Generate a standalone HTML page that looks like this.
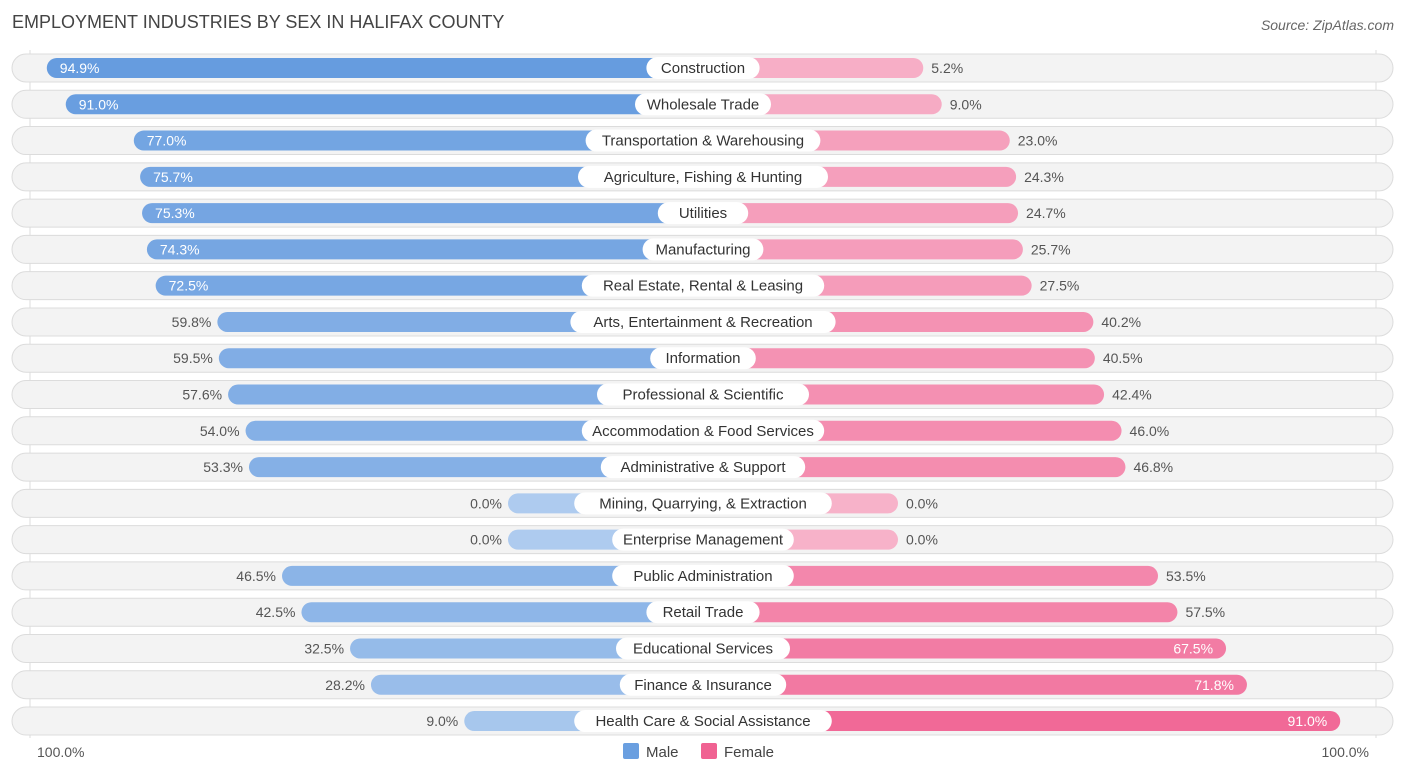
<!DOCTYPE html>
<html><head><meta charset="utf-8"><style>
body{margin:0;background:#fff;font-family:"Liberation Sans",sans-serif;}
svg text{font-family:"Liberation Sans",sans-serif;}
</style></head><body>
<svg id="chart" width="1406" height="776" viewBox="0 0 1406 776">
<text x="12" y="28" font-size="18" fill="#444">EMPLOYMENT INDUSTRIES BY SEX IN HALIFAX COUNTY</text>
<text x="1394" y="30" font-size="14" fill="#666" font-style="italic" text-anchor="end">Source: ZipAtlas.com</text>
<line x1="30" y1="50" x2="30" y2="738" stroke="#ddd"/>
<line x1="1376" y1="50" x2="1376" y2="738" stroke="#ddd"/>
<g id="rows"></g>
<text x="37" y="757" font-size="14" fill="#555">100.0%</text>
<text x="1369" y="757" font-size="14" fill="#555" text-anchor="end">100.0%</text>
<rect x="623" y="743" width="16" height="16" rx="2" fill="#6a9fe0"/>
<text x="646" y="757" font-size="15" fill="#444">Male</text>
<rect x="701" y="743" width="16" height="16" rx="2" fill="#f06292"/>
<text x="724" y="757" font-size="15" fill="#444">Female</text>
</svg>
<script>
const categories=["Construction","Wholesale Trade","Transportation & Warehousing","Agriculture, Fishing & Hunting","Utilities","Manufacturing","Real Estate, Rental & Leasing","Arts, Entertainment & Recreation","Information","Professional & Scientific","Accommodation & Food Services","Administrative & Support","Mining, Quarrying, & Extraction","Enterprise Management","Public Administration","Retail Trade","Educational Services","Finance & Insurance","Health Care & Social Assistance"];
const maleValues=[94.9,91.0,77.0,75.7,75.3,74.3,72.5,59.8,59.5,57.6,54.0,53.3,0.0,0.0,46.5,42.5,32.5,28.2,9.0];
const femaleValues=[5.2,9.0,23.0,24.3,24.7,25.7,27.5,40.2,40.5,42.4,46.0,46.8,0.0,0.0,53.5,57.5,67.5,71.8,91.0];
const NS="http://www.w3.org/2000/svg";
const g=document.getElementById('rows');
const cx=703, base=195, k=4.86, y0=68, step=36.28;
function mk(t,a){const e=document.createElementNS(NS,t);for(const n in a)e.setAttribute(n,a[n]);return e;}
function mix(c1,c2,t){return 'rgb('+c1.map((v,i)=>Math.round(v+(c2[i]-v)*t)).join(',')+')';}
const mLight=[174,203,239],mDark=[98,153,222],fLight=[247,178,201],fDark=[240,98,146];
function len(v){return base+k*v;}
categories.forEach((c,i)=>{
  const y=y0+i*step;
  const bg=mk('rect',{x:12,y:y-14,width:1381,height:28,rx:14,fill:'#f3f3f3',stroke:'#dcdcdc'});
  
  
  g.appendChild(bg);
  const mv=maleValues[i],fv=femaleValues[i];
  const ml=len(mv),fl=len(fv);
  const mb=mk('rect',{x:cx-ml,y:y-10,width:ml,height:20,rx:10,fill:mix(mLight,mDark,mv/100)});
  
  
  g.appendChild(mb);
  const fb=mk('rect',{x:cx,y:y-10,width:fl,height:20,rx:10,fill:mix(fLight,fDark,fv/100)});
  
  
  g.appendChild(fb);
  // category label
  const tw=c.length*7.6+22;
  const lb=mk('rect',{x:cx-tw/2,y:y-11,width:tw,height:22,rx:11,fill:'#fff'});
  
  
  g.appendChild(lb);
  const lt=mk('text',{x:cx,y:y+5,'font-size':15,fill:'#333','text-anchor':'middle'});
  lt.textContent=c;
  
  
  g.appendChild(lt);
  const mIn=mv>=70;
  const mt=mk('text',{x:mIn?cx-ml+13:cx-ml-6,y:y+5,'font-size':14,fill:mIn?'#fff':'#555','text-anchor':mIn?'start':'end'});
  mt.textContent=mv.toFixed(1)+'%';
  
  
  g.appendChild(mt);
  const fIn=fv>=60;
  const ft=mk('text',{x:fIn?cx+fl-13:cx+fl+8,y:y+5,'font-size':14,fill:fIn?'#fff':'#555','text-anchor':fIn?'end':'start'});
  ft.textContent=fv.toFixed(1)+'%';
  
  
  g.appendChild(ft);
});
</script>
</body></html>
